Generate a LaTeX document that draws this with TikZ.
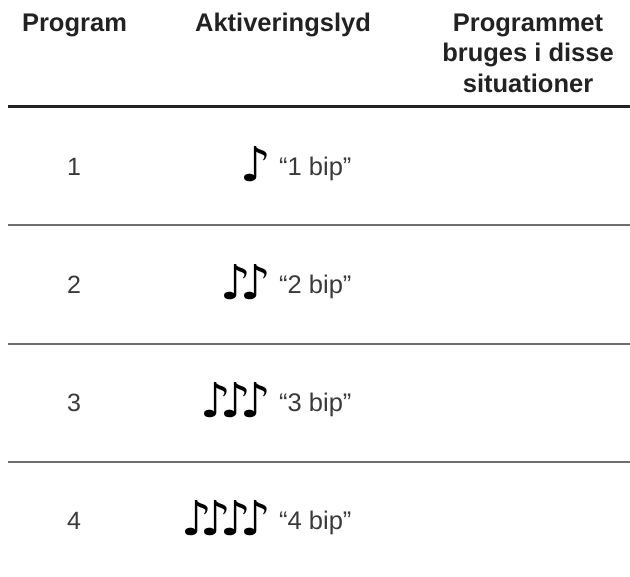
\documentclass[tikz,border=0pt]{standalone}
\usepackage{fontspec}
\setmainfont{Liberation Sans}
\newfontfamily\notefont{DejaVu Sans}
\usetikzlibrary{positioning}
\definecolor{inkdark}{HTML}{222222}
\definecolor{inkgray}{HTML}{3A3A3A}
\definecolor{rulegray}{HTML}{6E6E6E}
\newcommand{\eighth}{♪}
\newcommand{\nk}{\kern-11pt}
\tikzset{%
  hd/.style = {font=\fontsize{25.5}{30.5}\selectfont\bfseries,
        text=inkdark, inner sep=0pt, align=center},
  nr/.style = {font=\fontsize{25}{30}\selectfont, text=inkgray,
        inner sep=0pt, anchor=base},
  snd/.style = {font=\notefont\fontsize{48}{48}\selectfont,
        inner sep=0pt, anchor=base east},
  bip/.style = {font=\fontsize{25.5}{30}\selectfont, text=inkgray,
        inner sep=0pt, anchor=base west},
  toprule/.style = {draw=inkdark, line width=3pt},
  rowrule/.style = {draw=rulegray, line width=2pt}
}

\begin{document}
\begin{tikzpicture}[x=1pt,y=-1pt]
    \useasboundingbox (0,0) rectangle (630,577);
    % header
    \node[hd, anchor=base] (hprog) at (74.5,32) {Program};
    \node[hd, anchor=base] (hlyd) at (283,32) {Aktiveringslyd};
    \node[hd, anchor=north] (hsit) at (528,13.5)
        {Programmet\\bruges i disse\\situationer};
    \foreach \a/\b in {8/140.7,141.3/265.7,266.3/425.7,426.3/630}
        \draw[toprule] (\a,107) -- (\b,107);
    \foreach \y in {225.3,343.7,462}
        \foreach \a/\b in {8/140.7,141.3/265.7,266.3/425.7,426.3/630}
            \draw[rowrule] (\a,\y) -- (\b,\y);
    % rows
    \node[nr] (n1) at (74,176) {1};
    \node[snd] (s1) at (271,182) {\eighth};
    \node[bip] (b1) at (279,176) {“1 bip”};
    \node[nr] (n2) at (74,294) {2};
    \node[snd] (s2) at (271,300) {\eighth\nk\eighth};
    \node[bip] (b2) at (279,294) {“2 bip”};
    \node[nr] (n3) at (74,412) {3};
    \node[snd] (s3) at (271,418) {\eighth\nk\eighth\nk\eighth};
    \node[bip] (b3) at (279,412) {“3 bip”};
    \node[nr] (n4) at (74,530) {4};
    \node[snd] (s4) at (271,536) {\eighth\nk\eighth\nk\eighth\nk\eighth};
    \node[bip] (b4) at (279,530) {“4 bip”};
\end{tikzpicture}
\end{document}
